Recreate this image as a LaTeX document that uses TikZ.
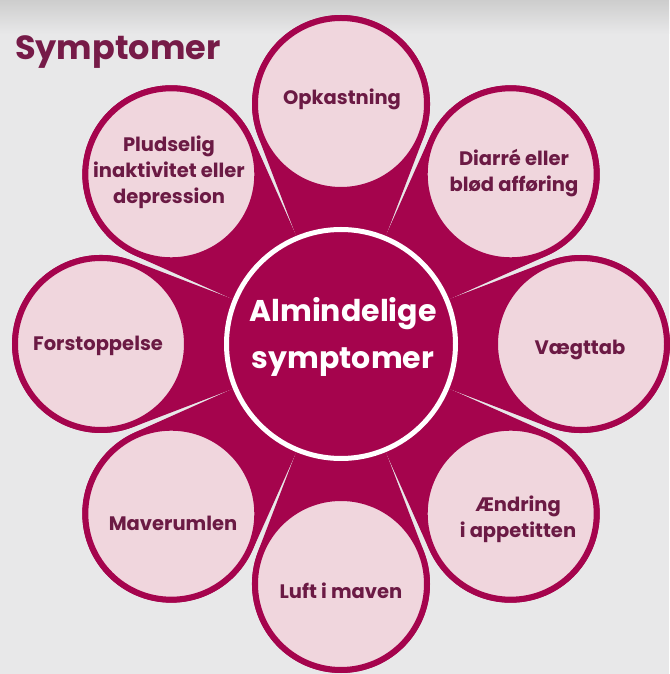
\documentclass[tikz,border=0pt]{standalone}
\usepackage{fontspec}
\setmainfont{Poppins}
\definecolor{mag}{HTML}{A5044D}
\definecolor{pinkf}{HTML}{F0D6DD}
\definecolor{plum}{HTML}{6B1A44}
\definecolor{titlec}{HTML}{761B48}
\definecolor{bg}{HTML}{E8E8E9}
\definecolor{bgtop}{HTML}{CDCDCD}
\tikzset{
  petalcircle/.style={circle, minimum size=172pt, inner sep=0pt, line width=6pt, draw=mag, fill=pinkf},
  lbl/.style={align=center, text=plum, font=\bfseries\fontsize{19.5}{26}\selectfont},
  hub/.style={circle, minimum size=229pt, inner sep=0pt, line width=5pt, draw=white, fill=mag},
  hubtxt/.style={align=center, text=white, font=\bfseries\fontsize{30}{47}\selectfont},
}
\begin{document}
\begin{tikzpicture}[x=1pt,y=1pt]
\useasboundingbox (0,0) rectangle (669,674);
\fill[bg] (0,0) rectangle (669,674);
\shade[top color=bgtop, bottom color=bg] (0,640) rectangle (669,674);
% petals
\foreach \a in {0,45,...,315} {
  \fill[mag, shift={(341,330)}, rotate=\a] (0,0) -- (109.0,45.2) -- (208.2,83.1)
    arc[start angle=110.9, end angle=-110.9, radius=89pt] -- (109.0,-45.2) -- cycle;
}
% outer circles
\node[petalcircle] (c0) at ([shift={(341,330)}]0:240) {};
\node[petalcircle] (c45) at ([shift={(341,330)}]45:240) {};
\node[petalcircle] (c90) at ([shift={(341,330)}]90:240) {};
\node[petalcircle] (c135) at ([shift={(341,330)}]135:240) {};
\node[petalcircle] (c180) at ([shift={(341,330)}]180:240) {};
\node[petalcircle] (c225) at ([shift={(341,330)}]225:240) {};
\node[petalcircle] (c270) at ([shift={(341,330)}]270:240) {};
\node[petalcircle] (c315) at ([shift={(341,330)}]315:240) {};
% hub
\node[hub] (hub) at (341,330) {};
\node[hubtxt] (hubt) at (343,337) {Almindelige\\symptomer};
% labels
\node[lbl] (t90) at (342,575) {Opkastning};
\node[lbl] (t45) at (514,501) {Diarré eller\\blød afføring};
\node[lbl] (t0) at (580,324) {Vægttab};
\node[lbl] (t315) at (518,155) {Ændring\\i appetitten};
\node[lbl] (t270) at (341,83) {Luft i maven};
\node[lbl] (t225) at (173,151) {Maverumlen};
\node[lbl] (t180) at (98,328) {Forstoppelse};
\node[lbl] (t135) at (169,502) {Pludselig\\inaktivitet eller\\depression};
% title
\node[anchor=base west, inner sep=0pt, text=titlec, font=\bfseries\fontsize{33.5}{38}\selectfont] (title) at (15,614) {Symptomer};
\end{tikzpicture}
\end{document}
